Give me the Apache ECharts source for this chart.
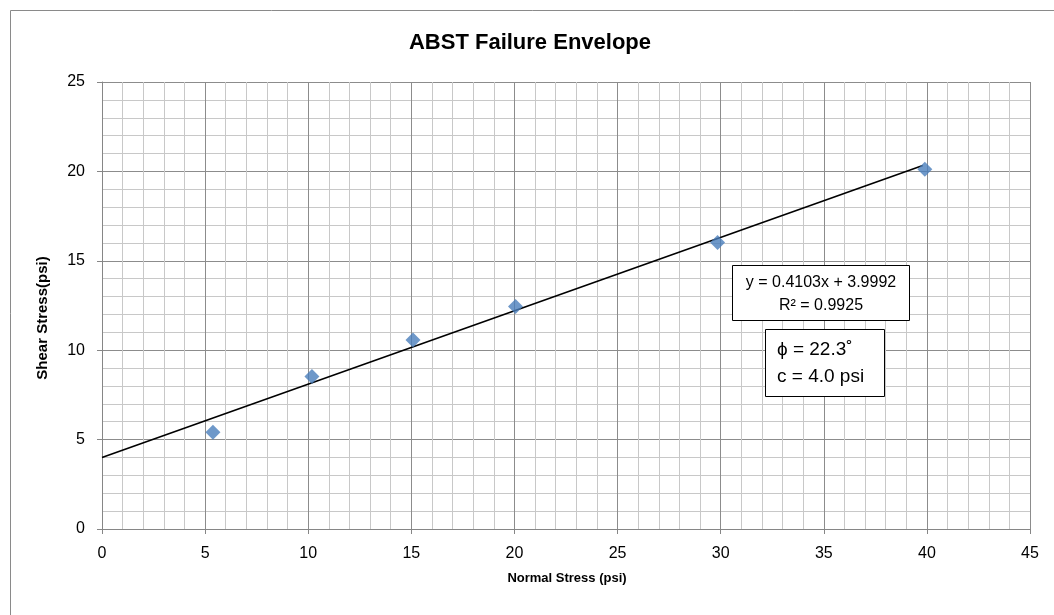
<!DOCTYPE html>
<html>
<head>
<meta charset="utf-8">
<script src="https://cdn.jsdelivr.net/npm/echarts@6/dist/echarts.min.js"></script>
<style>
  html, body { margin: 0; padding: 0; background: #ffffff; }
  #chart { width: 1054px; height: 615px; }
</style>
</head>
<body>
<div id="chart"></div>
<script>
// ---- data ----
const normalStress = [5.38, 10.18, 15.08, 20.05, 29.85, 39.9];
const shearStress  = [5.41, 8.53, 10.57, 12.45, 16.03, 20.12];
const trendSlope = 0.4103;
const trendIntercept = 3.9992;
const rSquared = 0.9925;
const phiDeg = 22.3;
const cohesion = 4.0;
const xTicks = [0, 5, 10, 15, 20, 25, 30, 35, 40, 45];
const yTicks = [0, 5, 10, 15, 20, 25];

const titleText = 'ABST Failure Envelope';
const xName = 'Normal Stress (psi)';
const yName = 'Shear Stress(psi)';

// trendline endpoints from the displayed regression equation
const trendX = [0, normalStress[normalStress.length - 1] - 0.1];
const trendData = trendX.map(x => [x, trendSlope * x + trendIntercept]);
const pointData = normalStress.map((x, i) => [x, shearStress[i]]);

const FONT = "'Liberation Sans', 'DejaVu Sans', sans-serif";
const chart = echarts.init(document.getElementById('chart'), null, { renderer: 'canvas' });

const axisCommon = {
  axisLine: { show: true, onZero: false, lineStyle: { color: '#868686', width: 1 } },
  axisTick: { show: true, length: 5, lineStyle: { color: '#868686' } },
  axisLabel: { color: '#000000', fontSize: 16, fontFamily: FONT, margin: 17 },
  splitLine: { show: true, lineStyle: { color: '#8c8c8c', width: 1 } },
  minorTick: { show: false, splitNumber: 5 },
  minorSplitLine: { show: true, lineStyle: { color: '#c8c8c8', width: 1 } }
};

chart.setOption({
  backgroundColor: '#ffffff',
  animation: false,
  grid: { left: 102, right: 24, top: 82, bottom: 86, containLabel: false },
  xAxis: Object.assign({
    type: 'value', min: xTicks[0], max: xTicks[xTicks.length - 1], interval: 5
  }, axisCommon),
  yAxis: Object.assign({
    type: 'value', min: yTicks[0], max: yTicks[yTicks.length - 1], interval: 5
  }, axisCommon),
  series: [
    {
      type: 'line',
      data: trendData,
      symbol: 'none',
      lineStyle: { color: '#000000', width: 1.6 },
      z: 3
    },
    {
      type: 'scatter',
      data: pointData,
      symbol: 'diamond',
      symbolSize: 15,
      itemStyle: { color: '#4a7ebb' },
      z: 4
    }
  ],
  graphic: [
    {
      type: 'rect', silent: true, z: -10,
      shape: { x: 10.5, y: 10.5, width: 1100, height: 700 },
      style: { fill: 'none', stroke: '#8a8a8a', lineWidth: 1 }
    },
    {
      type: 'text', x: 530, y: 43, z: 10,
      style: { text: titleText, font: "bold 22px " + FONT, fill: '#000000',
               textAlign: 'center', textVerticalAlign: 'middle' }
    },
    {
      type: 'text', x: 567, y: 578, z: 10,
      style: { text: xName, font: "bold 13px " + FONT, fill: '#000000',
               textAlign: 'center', textVerticalAlign: 'middle' }
    },
    {
      type: 'text', x: 43, y: 318, rotation: Math.PI / 2, z: 10,
      style: { text: yName, font: "bold 15px " + FONT, fill: '#000000',
               textAlign: 'center', textVerticalAlign: 'middle' }
    },
    {
      type: 'group', z: 20,
      children: [
        {
          type: 'rect', z: 20,
          shape: { x: 732.5, y: 265.5, width: 177, height: 55 },
          style: { fill: '#ffffff', stroke: '#000000', lineWidth: 1 }
        },
        {
          type: 'text', z: 21, x: 821, y: 283,
          style: { text: 'y = ' + trendSlope.toFixed(4) + 'x + ' + trendIntercept.toFixed(4),
                   font: "16px " + FONT, fill: '#000000', textAlign: 'center', textVerticalAlign: 'middle' }
        },
        {
          type: 'text', z: 21, x: 821, y: 306,
          style: { text: 'R² = ' + rSquared.toFixed(4),
                   font: "16px " + FONT, fill: '#000000', textAlign: 'center', textVerticalAlign: 'middle' }
        },
        {
          type: 'rect', z: 20,
          shape: { x: 765.5, y: 329.5, width: 119, height: 67 },
          style: { fill: '#ffffff', stroke: '#000000', lineWidth: 1 }
        },
        {
          type: 'text', z: 21, x: 777, y: 350,
          style: { text: 'ϕ = ' + phiDeg.toFixed(1) + '˚',
                   font: "19px " + FONT, fill: '#000000', textAlign: 'left', textVerticalAlign: 'middle' }
        },
        {
          type: 'text', z: 21, x: 777, y: 377,
          style: { text: 'c = ' + cohesion.toFixed(1) + ' psi',
                   font: "19px " + FONT, fill: '#000000', textAlign: 'left', textVerticalAlign: 'middle' }
        }
      ]
    }
  ]
});
</script>
</body>
</html>
